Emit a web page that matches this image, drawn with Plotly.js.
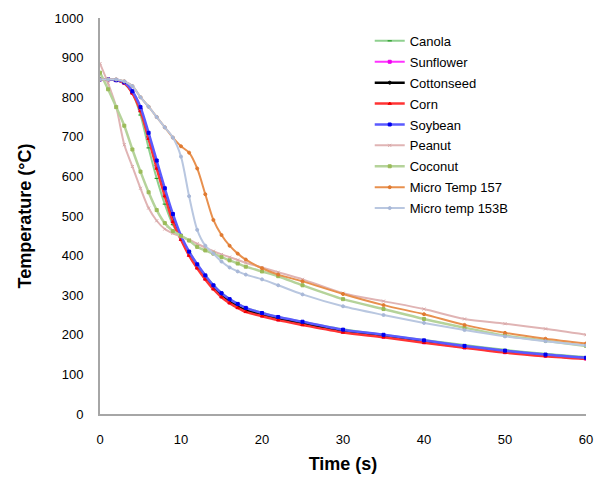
<!DOCTYPE html>
<html>
<head>
<meta charset="utf-8">
<script src="https://cdn.plot.ly/plotly-3.0.1.min.js"></script>
<style>html,body{margin:0;padding:0;background:#fff;}#chart{width:608px;height:485px;}</style>
</head>
<body>
<div id="chart"></div>
<script>
// Time (s)
var timeS = [0,1,2,3,4,5,6,7,8,9,10,11,12,13,14,15,16,17,18,20,22,25,30,35,40,45,50,55,60];

var canola     = [845,845,843,834,810,755,672,595,530,478,445,410,378,350,326,306,290,278,268,256,245,233,214,200,187,174,162,152,144];
var sunflower  = [845,845,843,836,811,768,698,625,553,488,442,402,370,342,318,298,282,270,260,249,239,227,208,195,181,168,156,147,140];
var cottonseed = [845,845,843,837,812,770,700,628,558,492,445,405,372,345,320,300,285,272,262,251,241,229,210,197,183,170,158,148,141];
var corn       = [845,845,843,836,810,765,695,620,550,485,440,400,368,340,315,295,280,268,258,247,237,225,206,194,180,167,155,146,139];
var soybean    = [845,845,843,838,815,775,710,640,570,505,450,410,378,350,325,305,290,278,268,255,245,233,213,200,186,172,160,150,142];
var peanut     = [885,835,775,680,625,570,520,488,467,456,448,440,430,420,411,403,396,389,382,370,358,340,305,285,265,240,228,215,200];
var coconut    = [862,820,775,728,668,612,560,515,482,462,450,438,422,413,405,396,388,380,372,360,348,325,290,265,240,218,198,185,172];
var micro157   = [845,845,845,840,828,800,776,750,724,698,676,660,620,555,490,452,425,405,390,368,352,335,303,275,252,225,205,190,178];
var micro153B  = [845,845,845,840,828,800,776,750,724,698,650,550,465,425,405,385,370,360,352,340,325,302,272,250,230,212,196,184,173];

var seriesNames = ["Canola","Sunflower","Cottonseed","Corn","Soybean","Peanut","Coconut","Micro Temp 157","Micro temp 153B"];
var seriesData  = [canola,sunflower,cottonseed,corn,soybean,peanut,coconut,micro157,micro153B];
var lineColors  = ["#8fd08f","#ff33ff","#000000","#ff3333","#5a5aff","#e0b4b4","#b5d39a","#e8904e","#b9c7e0"];
var markColors  = ["#109010","#ee00ee","#000000","#ee0000","#0000ee","#d8a8a8","#9bbb59","#e07a30","#a8b8d8"];
var markSyms    = ["line-ew","square","circle","triangle-up","square","x-thin","square","circle","circle"];
var lineWidths  = [2,2,2.5,2.5,2.5,2,2.5,2,2];

var traces = seriesNames.map(function(n,i){
  return {
    x: timeS, y: seriesData[i], name: n, type: 'scatter', mode: 'lines+markers',
    legendgroup: 'g'+i,
    line: {color: lineColors[i], width: lineWidths[i], shape: 'spline', smoothing: 0.8},
    marker: {color: markColors[i], size: 3, symbol: markSyms[i], line:{color: markColors[i], width:1}},
    hoverinfo: 'skip'
  };
});

var layout = {
  width: 608, height: 485,
  margin: {l: 100, r: 22, t: 18, b: 71},
  paper_bgcolor: '#fff', plot_bgcolor: '#fff',
  font: {family: 'Liberation Sans, Arial, sans-serif', size: 13, color: '#000'},
  showlegend: true,
  legend: {x: 0.555, y: 0.98, xanchor: 'left', yanchor: 'top', traceorder: 'grouped', tracegroupgap: 1,
           font: {size: 13, color: '#000'}, bgcolor: 'rgba(255,255,255,0)'},
  xaxis: {range: [0, 60], tickvals: [0,10,20,30,40,50,60], showgrid: false, zeroline: false,
          showline: true, linecolor: '#a6a6a6', linewidth: 2, ticks: '', ticklabelstandoff: 12,
          title: {text: '<b>Time (s)</b>', font: {size: 18}, standoff: 12}},
  yaxis: {range: [0, 1000], tickvals: [0,100,200,300,400,500,600,700,800,900,1000], showgrid: false, zeroline: false,
          showline: true, linecolor: '#a6a6a6', linewidth: 2, ticks: '', ticklabelstandoff: 12,
          title: {text: '<b>Temperature (°C)</b>', font: {size: 18}, standoff: 18}}
};

Plotly.newPlot('chart', traces, layout, {staticPlot: true, displayModeBar: false});
</script>
</body>
</html>
